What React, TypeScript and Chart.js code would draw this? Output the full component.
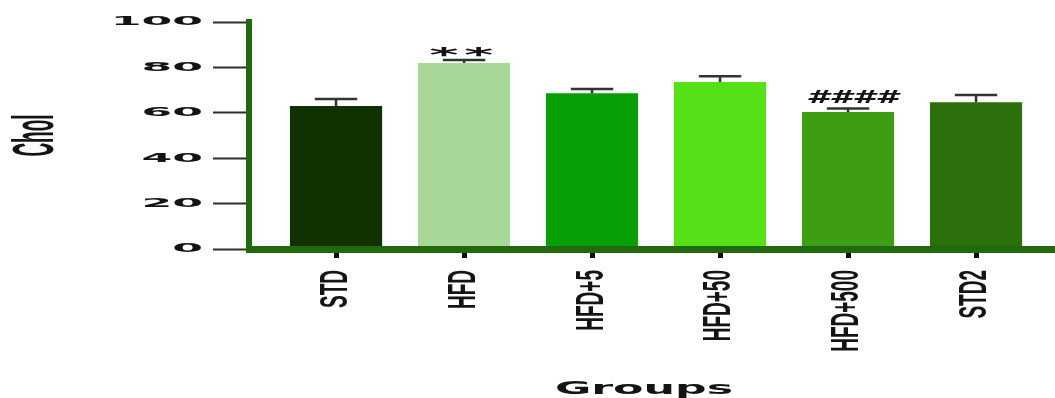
import React, { useEffect, useRef } from 'react';
import { Chart, registerables } from 'chart.js';

Chart.register(...registerables);

// Groups and cholesterol values (mean and upper SEM)
const GROUPS = ['STD', 'HFD', 'HFD+5', 'HFD+50', 'HFD+500', 'STD2'];
const CHOL_MEAN = [63.0, 81.9, 68.6, 73.6, 60.4, 64.6];
const CHOL_SEM = [3.1, 1.4, 1.9, 2.5, 1.5, 3.2];
const SIG_MARKS = ['', '**', '', '', '####', ''];
const Y_TICKS = [0, 20, 40, 60, 80, 100];

const BAR_COLORS = ['#0f3200', '#a8d898', '#06a006', '#55e017', '#3d9e14', '#2c700c'];
const AXIS_GREEN = '#20690f';
const INK = '#141414';

const W = 1055;
const H = 398;

// index-axis range (group positions 0..5)
const X_MIN = -0.68;
const X_MAX = 5.617;

// horizontal widening applied to text, per element
const WIDE = {
  y: { labels: 3.4, title: 3.0, titleShift: 0 },
  x: { labels: 2.0, title: 2.46, titleShift: -8 },
  stars: 2.8,
  hashes: 1.95,
};

type WideCtx = CanvasRenderingContext2D & { __sx?: number; __wide?: boolean };

function withWidth(ctx: WideCtx, s: number, fn: () => void) {
  const prev = ctx.__sx;
  ctx.__sx = s;
  try {
    fn();
  } finally {
    ctx.__sx = prev;
  }
}

// Widens text horizontally about its anchor point
const wideText = {
  id: 'wideText',
  beforeDraw(chart: any) {
    const ctx = chart.ctx as WideCtx;
    if (!ctx.__wide) {
      const base = CanvasRenderingContext2D.prototype.fillText;
      ctx.__sx = 1;
      (ctx as any).fillText = function (text: string, x: number, y: number, maxWidth?: number) {
        const s = ctx.__sx ?? 1;
        if (s === 1) {
          if (maxWidth === undefined) base.call(ctx, text, x, y);
          else base.call(ctx, text, x, y, maxWidth);
          return;
        }
        const m = ctx.getTransform();
        const ax = m.a * x + m.c * y + m.e;
        const ay = m.b * x + m.d * y + m.f;
        ctx.save();
        ctx.setTransform(
          new DOMMatrix().translateSelf(ax, ay).scaleSelf(s, 1).translateSelf(-ax, -ay).multiplySelf(m)
        );
        base.call(ctx, text, x, y);
        ctx.restore();
      };
      ctx.__wide = true;
    }
    (['x', 'y'] as const).forEach((id) => {
      const scale = chart.scales[id];
      if (!scale || scale.__wide) return;
      const f = WIDE[id];
      const drawLabels = scale.drawLabels.bind(scale);
      const drawTitle = scale.drawTitle.bind(scale);
      scale.drawLabels = (area: any) => withWidth(ctx, f.labels, () => drawLabels(area));
      scale.drawTitle = () => {
        ctx.save();
        ctx.translate(f.titleShift, 0);
        withWidth(ctx, f.title, () => drawTitle());
        ctx.restore();
      };
      scale.__wide = true;
    });
  },
};

// SEM whiskers (upper half) and significance marks
const semMarks = {
  id: 'semMarks',
  afterDatasetsDraw(chart: any) {
    const ctx = chart.ctx as WideCtx;
    const meta = chart.getDatasetMeta(0);
    const yScale = chart.scales.y;
    ctx.save();
    ctx.strokeStyle = '#333333';
    ctx.lineWidth = 2.5;
    meta.data.forEach((bar: any, i: number) => {
      const top = yScale.getPixelForValue(CHOL_MEAN[i]);
      const end = yScale.getPixelForValue(CHOL_MEAN[i] + CHOL_SEM[i]);
      const half = (bar.width * 0.46) / 2;
      ctx.beginPath();
      ctx.moveTo(bar.x, top);
      ctx.lineTo(bar.x, end);
      ctx.moveTo(bar.x - half, end);
      ctx.lineTo(bar.x + half, end);
      ctx.stroke();

      const mark = SIG_MARKS[i];
      if (!mark) return;
      ctx.fillStyle = INK;
      ctx.textAlign = 'center';
      ctx.textBaseline = 'alphabetic';
      if (mark.startsWith('*')) {
        ctx.font = 'bold 20px "DejaVu Sans"';
        (ctx as any).letterSpacing = '2px';
        withWidth(ctx, WIDE.stars, () => ctx.fillText(mark, bar.x, end + 1));
      } else {
        ctx.font = 'italic bold 17px "DejaVu Sans"';
        (ctx as any).letterSpacing = '0px';
        withWidth(ctx, WIDE.hashes, () => ctx.fillText(mark, bar.x + 4, end - 5));
      }
      (ctx as any).letterSpacing = '0px';
    });
    ctx.restore();
  },
};

export default function App() {
  const canvasRef = useRef<HTMLCanvasElement | null>(null);

  useEffect(() => {
    const canvas = canvasRef.current;
    if (!canvas) return;

    const chart = new Chart(canvas, {
      type: 'bar',
      data: {
        datasets: [
          {
            label: 'Chol',
            data: CHOL_MEAN.map((v, i) => ({ x: i, y: v })),
            backgroundColor: BAR_COLORS,
            borderWidth: 0,
            categoryPercentage: 1,
            barPercentage: 0.72,
          },
        ],
      },
      options: {
        responsive: false,
        maintainAspectRatio: false,
        animation: false,
        devicePixelRatio: 1,
        layout: { padding: { top: 22, right: 0, bottom: 0, left: 0 } },
        plugins: {
          legend: { display: false },
          tooltip: { enabled: false },
        },
        scales: {
          x: {
            type: 'linear',
            min: X_MIN,
            max: X_MAX,
            offset: false,
            afterBuildTicks: (s: any) => {
              s.ticks = GROUPS.map((_, i) => ({ value: i }));
            },
            afterFit: (s: any) => {
              s.height = 149;
            },
            grid: {
              display: true,
              offset: false,
              drawOnChartArea: false,
              drawTicks: true,
              tickLength: 9,
              tickWidth: 5,
              tickColor: '#111111',
            },
            border: { display: true, color: AXIS_GREEN, width: 7, z: 1 },
            ticks: {
              autoSkip: false,
              minRotation: 90,
              maxRotation: 90,
              padding: 12,
              color: INK,
              font: { family: '"Liberation Sans"', weight: 'bold', size: 19 },
              callback: (v: any) => GROUPS[v as number] ?? '',
            },
            title: {
              display: true,
              text: 'Groups',
              color: INK,
              font: { family: '"DejaVu Sans"', weight: 'bold', size: 18, lineHeight: 1 },
              padding: 0,
            },
          },
          y: {
            type: 'linear',
            min: 0,
            max: 100,
            afterBuildTicks: (s: any) => {
              s.ticks = Y_TICKS.map((v) => ({ value: v }));
            },
            afterFit: (s: any) => {
              s.width = 249;
            },
            grid: {
              display: true,
              drawOnChartArea: false,
              drawTicks: true,
              tickLength: 36,
              tickWidth: 2,
              tickColor: '#2e2e2e',
            },
            border: { display: true, color: AXIS_GREEN, width: 6, z: 1 },
            ticks: {
              padding: 10,
              color: INK,
              font: { family: '"DejaVu Sans"', weight: 'bold', size: 13 },
            },
            title: {
              display: true,
              text: 'Chol',
              color: INK,
              font: { family: '"Liberation Sans"', weight: 'bold', size: 19 },
              padding: { top: 26, bottom: 0 },
            },
          },
        },
      } as any,
      plugins: [wideText, semMarks],
    });

    return () => chart.destroy();
  }, []);

  return (
    <div style={{ position: 'absolute', left: 0, top: 0, width: W, height: H, background: '#ffffff' }}>
      <canvas ref={canvasRef} width={W} height={H} style={{ width: W, height: H, display: 'block' }} />
    </div>
  );
}
